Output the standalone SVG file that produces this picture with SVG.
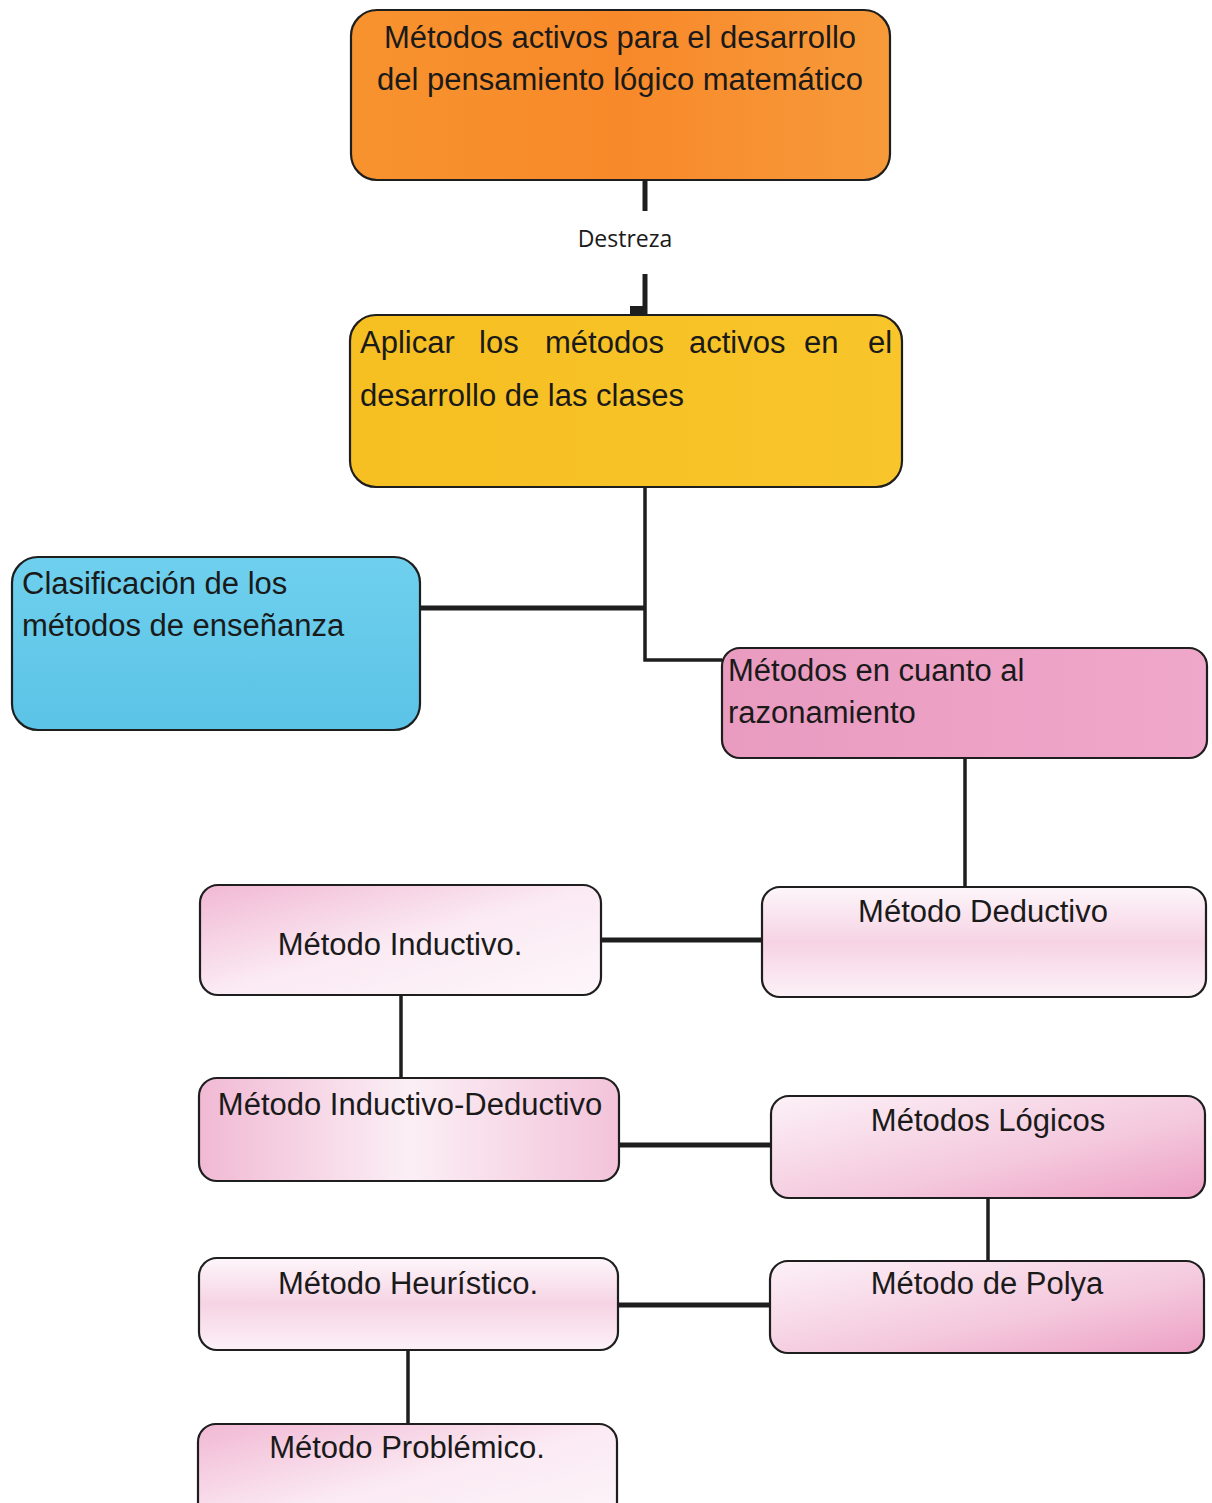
<svg xmlns="http://www.w3.org/2000/svg" width="1212" height="1503" viewBox="0 0 1212 1503">
<defs>
<linearGradient id="gOrange" x1="0" y1="0" x2="1" y2="0"><stop offset="0" stop-color="#F7932E"/><stop offset="0.5" stop-color="#F8892A"/><stop offset="1" stop-color="#F79A3A"/></linearGradient>
<linearGradient id="gYellow" x1="0" y1="0" x2="1" y2="0"><stop offset="0" stop-color="#F6BF22"/><stop offset="1" stop-color="#F8C52A"/></linearGradient>
<linearGradient id="gBlue" x1="0" y1="0" x2="0" y2="1"><stop offset="0" stop-color="#6FD0EE"/><stop offset="1" stop-color="#5BC3E6"/></linearGradient>
<linearGradient id="gPink" x1="0" y1="0" x2="1" y2="0"><stop offset="0" stop-color="#E99BC0"/><stop offset="1" stop-color="#EFA7CA"/></linearGradient>
<linearGradient id="gLight1" x1="0" y1="0" x2="1" y2="1"><stop offset="0" stop-color="#F1B8D4"/><stop offset="0.5" stop-color="#FBEAF3"/><stop offset="1" stop-color="#FDF6FA"/></linearGradient>
<linearGradient id="gLight2" x1="0" y1="0" x2="0" y2="1"><stop offset="0" stop-color="#FDF6FA"/><stop offset="0.5" stop-color="#F6D3E4"/><stop offset="1" stop-color="#FCF1F7"/></linearGradient>
<linearGradient id="gLight3" x1="0" y1="0" x2="1" y2="1"><stop offset="0" stop-color="#FCF1F7"/><stop offset="0.6" stop-color="#F4C8DD"/><stop offset="1" stop-color="#EDA0C4"/></linearGradient>
<linearGradient id="gLight4" x1="0" y1="0" x2="1" y2="0"><stop offset="0" stop-color="#F1B9D4"/><stop offset="0.5" stop-color="#FBEFF5"/><stop offset="1" stop-color="#F3C3DA"/></linearGradient>
</defs>
<style>
.box{stroke:#1e1e1e;stroke-width:2.2}
.t{font-family:"Liberation Sans",Arial,sans-serif;font-size:31px;fill:#1a1a1a}
.c{text-anchor:middle}
.ln{stroke:#1e1e1e;fill:none}
.thin{stroke-width:3.5}
.thick{stroke-width:5}
.lbl{font-family:"Open Sans","Liberation Sans",sans-serif;font-size:23px;fill:#1a1a1a;text-anchor:middle}
</style>
<rect width="1212" height="1503" fill="#ffffff"/>
<g id="connectors">
<line class="ln thick" x1="645" y1="180" x2="645" y2="211"/>
<line class="ln thick" x1="645" y1="274" x2="645" y2="316"/>
<rect x="630" y="306" width="15" height="9" fill="#1e1e1e"/>
<text class="lbl" x="625" y="247">Destreza</text>
<polyline class="ln thin" points="645,487 645,660 722,660"/>
<line class="ln thick" x1="420" y1="608" x2="645" y2="608"/>
<line class="ln thin" x1="965" y1="758" x2="965" y2="887"/>
<line class="ln thick" x1="601" y1="940" x2="762" y2="940"/>
<line class="ln thin" x1="401" y1="995" x2="401" y2="1078"/>
<line class="ln thick" x1="619" y1="1145" x2="771" y2="1145"/>
<line class="ln thin" x1="988" y1="1198" x2="988" y2="1261"/>
<line class="ln thick" x1="618" y1="1305" x2="770" y2="1305"/>
<line class="ln thin" x1="408" y1="1350" x2="408" y2="1424"/>
</g>
<g id="n-metodos-activos">
<rect class="box" x="351" y="10" width="539" height="170" rx="26" fill="url(#gOrange)"/>
<text class="t c" x="620" y="48">Métodos activos para el desarrollo</text>
<text class="t c" x="620" y="90">del pensamiento lógico matemático</text>
</g>
<g id="n-aplicar">
<rect class="box" x="350" y="315" width="552" height="172" rx="26" fill="url(#gYellow)"/>
<text class="t" y="353"><tspan x="360">Aplicar</tspan><tspan x="479">los</tspan><tspan x="545">métodos</tspan><tspan x="689">activos</tspan><tspan x="804">en</tspan><tspan x="868">el</tspan></text>
<text class="t" x="360" y="406">desarrollo de las clases</text>
</g>
<g id="n-clasificacion">
<rect class="box" x="12" y="557" width="408" height="173" rx="26" fill="url(#gBlue)"/>
<text class="t" x="22" y="594">Clasificación de los</text>
<text class="t" x="22" y="636">métodos de enseñanza</text>
</g>
<g id="n-razonamiento">
<rect class="box" x="722" y="648" width="485" height="110" rx="18" fill="url(#gPink)"/>
<text class="t" x="728" y="681">Métodos en cuanto al</text>
<text class="t" x="728" y="723">razonamiento</text>
</g>
<g id="n-deductivo">
<rect class="box" x="762" y="887" width="444" height="110" rx="18" fill="url(#gLight2)"/>
<text class="t c" x="983" y="922">Método Deductivo</text>
</g>
<g id="n-inductivo">
<rect class="box" x="200" y="885" width="401" height="110" rx="18" fill="url(#gLight1)"/>
<text class="t c" x="400" y="955">Método Inductivo.</text>
</g>
<g id="n-inductivo-deductivo">
<rect class="box" x="199" y="1078" width="420" height="103" rx="18" fill="url(#gLight4)"/>
<text class="t c" x="410" y="1115">Método Inductivo-Deductivo</text>
</g>
<g id="n-logicos">
<rect class="box" x="771" y="1096" width="434" height="102" rx="18" fill="url(#gLight3)"/>
<text class="t c" x="988" y="1131">Métodos Lógicos</text>
</g>
<g id="n-polya">
<rect class="box" x="770" y="1261" width="434" height="92" rx="18" fill="url(#gLight3)"/>
<text class="t c" x="987" y="1294">Método de Polya</text>
</g>
<g id="n-heuristico">
<rect class="box" x="199" y="1258" width="419" height="92" rx="18" fill="url(#gLight2)"/>
<text class="t c" x="408" y="1294">Método Heurístico.</text>
</g>
<g id="n-problemico">
<rect class="box" x="198" y="1424" width="419" height="110" rx="18" fill="url(#gLight1)"/>
<text class="t c" x="407" y="1458">Método Problémico.</text>
</g>
</svg>
